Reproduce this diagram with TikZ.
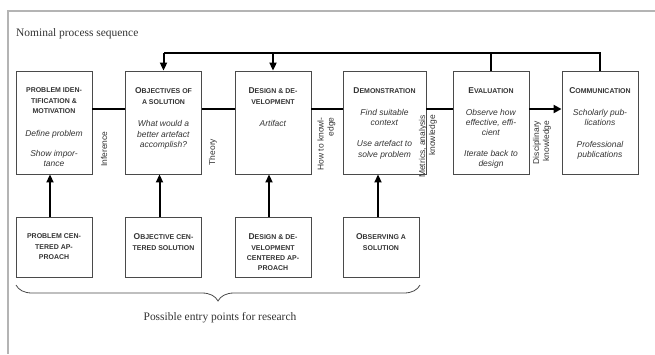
\documentclass[tikz,border=0pt]{standalone}
\usepackage{fontspec}
\setmainfont{Liberation Serif}
\setsansfont{Liberation Sans}
\usetikzlibrary{arrows.meta,decorations.pathreplacing,calc}
\definecolor{frameg}{HTML}{B4B4B4}
\definecolor{boxg}{HTML}{4A4A4A}
\definecolor{txtg}{HTML}{333333}
\newcommand{\Ini}[1]{{\fontsize{8.5}{10.5}\selectfont #1}}
\newcommand{\Hd}[1]{{\bfseries\fontsize{7}{10.5}\selectfont #1}}
\begin{document}
\begin{tikzpicture}[x=1bp,y=-1bp,
  topbox/.style={draw=boxg,line width=0.9bp,minimum width=76bp,minimum height=103bp,inner sep=0pt},
  botbox/.style={draw=boxg,line width=0.9bp,minimum width=76bp,minimum height=60bp,inner sep=0pt},
  txt/.style={align=center,inner sep=0pt,text=txtg,font=\sffamily\fontsize{8.5}{10.5}\selectfont,anchor=north},
  lbl/.style={rotate=90,align=right,inner sep=0pt,text=txtg,font=\sffamily\fontsize{8.5}{10}\selectfont},
  conn/.style={line width=2.6bp,black},
  fbline/.style={line width=2bp,black},
  uparr/.style={line width=2bp,black,-{Triangle[length=8bp,width=7bp]}},
  serif/.style={text=txtg,font=\rmfamily\fontsize{11.5}{13}\selectfont,inner sep=0pt}
]
\useasboundingbox (0,0) rectangle (655,354);
% frame
\draw[frameg,line width=1.5bp] (655,11) -- (8,11) -- (8,354);
\node[serif,anchor=west] (title) at (16,34) {Nominal process sequence};

% top boxes
\node[topbox] (b1) at (54,122.5) {};
\node[topbox] (b2) at (163.5,122.5) {};
\node[topbox] (b3) at (273,122.5) {};
\node[topbox,minimum width=83bp] (b4) at (384.5,122.5) {};
\node[topbox] (b5) at (491,122.5) {};
\node[topbox] (b6) at (600,122.5) {};

\node[txt] (t1) at ($(b1.north)+(0,17)$) {\Hd{PROBLEM IDEN-}\\\Hd{TIFICATION \&}\\\Hd{MOTIVATION}\\[12bp]\textit{Define problem}\\[10bp]\textit{Show impor-}\\\textit{tance}};
\node[txt] (t2) at ($(b2.north)+(0,17)$) {\Hd{\Ini{O}BJECTIVES OF}\\\Hd{A SOLUTION}\\[12bp]\textit{What would a}\\\textit{better artefact}\\\textit{accomplish?}};
\node[txt] (t3) at ($(b3.north)+(0,17)$) {\Hd{\Ini{D}ESIGN \& DE-}\\\Hd{VELOPMENT}\\[12bp]\textit{Artifact}};
\node[txt] (t4) at ($(b4.north)+(0,17)$) {\Hd{\Ini{D}EMONSTRATION}\\[11bp]\textit{Find suitable}\\\textit{context}\\[11bp]\textit{Use artefact to}\\\textit{solve problem}};
\node[txt] (t5) at ($(b5.north)+(0,17)$) {\Hd{\Ini{E}VALUATION}\\[11bp]\textit{Observe how}\\\textit{effective, effi-}\\\textit{cient}\\[10bp]\textit{Iterate back to}\\\textit{design}};
\node[txt] (t6) at ($(b6.north)+(0,17)$) {\Hd{\Ini{C}OMMUNICATION}\\[11bp]\textit{Scholarly pub-}\\\textit{lications}\\[11bp]\textit{Professional}\\\textit{publications}};

% bottom boxes
\node[botbox] (p1) at (54,247) {};
\node[botbox] (p2) at (163.5,247) {};
\node[botbox] (p3) at (273,247) {};
\node[botbox] (p4) at (381,247) {};
\node[txt] (s1) at ($(p1.north)+(0,17)$) {\Hd{PROBLEM CEN-}\\\Hd{TERED AP-}\\\Hd{PROACH}};
\node[txt] (s2) at ($(p2.north)+(0,17)$) {\Hd{\Ini{O}BJECTIVE CEN-}\\\Hd{TERED SOLUTION}};
\node[txt] (s3) at ($(p3.north)+(0,17)$) {\Hd{\Ini{D}ESIGN \& DE-}\\\Hd{VELOPMENT}\\\Hd{CENTERED AP-}\\\Hd{PROACH}};
\node[txt] (s4) at ($(p4.north)+(0,17)$) {\Hd{\Ini{O}BSERVING A}\\\Hd{SOLUTION}};

% horizontal connectors
\coordinate (cy) at (0,109);
\draw[conn] (b1.east |- cy) -- (b2.west |- cy);
\draw[conn] (b2.east |- cy) -- (b3.west |- cy);
\draw[conn] (b3.east |- cy) -- (b4.west |- cy);
\draw[conn] (b4.east |- cy) -- (b5.west |- cy);
\draw[conn,-{Triangle[length=8bp,width=8bp]}] (b5.east |- cy) -- (b6.west |- cy);

% connector labels
\node[lbl] (l1) at (104,149) {Inference};
\node[lbl] (l2) at (213,152) {Theory};
\node[lbl] (l3) at (326.5,144) {How to knowl-\\edge};
\node[lbl] (l4) at (428,146.5) {Metrics, analysis\\knowledge};
\node[lbl] (l5) at (542,142.5) {Disciplinary\\knowledge};

% feedback loop
\coordinate (fb) at (0,53);
\draw[fbline] (b6.north) -- (b6.north |- fb) -- (b2.north |- fb);
\draw[fbline] (b5.north |- fb) -- (b5.north);
\draw[uparr] (b2.north |- fb) -- (b2.north);
\draw[uparr] (b3.north |- fb) -- (b3.north);

% entry arrows
\draw[uparr] ([xshift=-4bp]p1.north) -- ([xshift=-4bp]b1.south);
\draw[uparr] ([xshift=-4bp]p2.north) -- ([xshift=-4bp]b2.south);
\draw[uparr] ([xshift=-4bp]p3.north) -- ([xshift=-4bp]b3.south);
\draw[uparr] ([xshift=-3bp]p4.north) -- ([xshift=-3bp]p4.north |- b4.south);

% brace
\coordinate (brL) at (16,285);
\coordinate (brR) at (420,285);
\draw[boxg,line width=0.8bp,decorate,decoration={brace,mirror,amplitude=16bp}] (brL) -- (brR);
\node[serif] (entry) at (220,318) {Possible entry points for research};
\end{tikzpicture}
\end{document}
